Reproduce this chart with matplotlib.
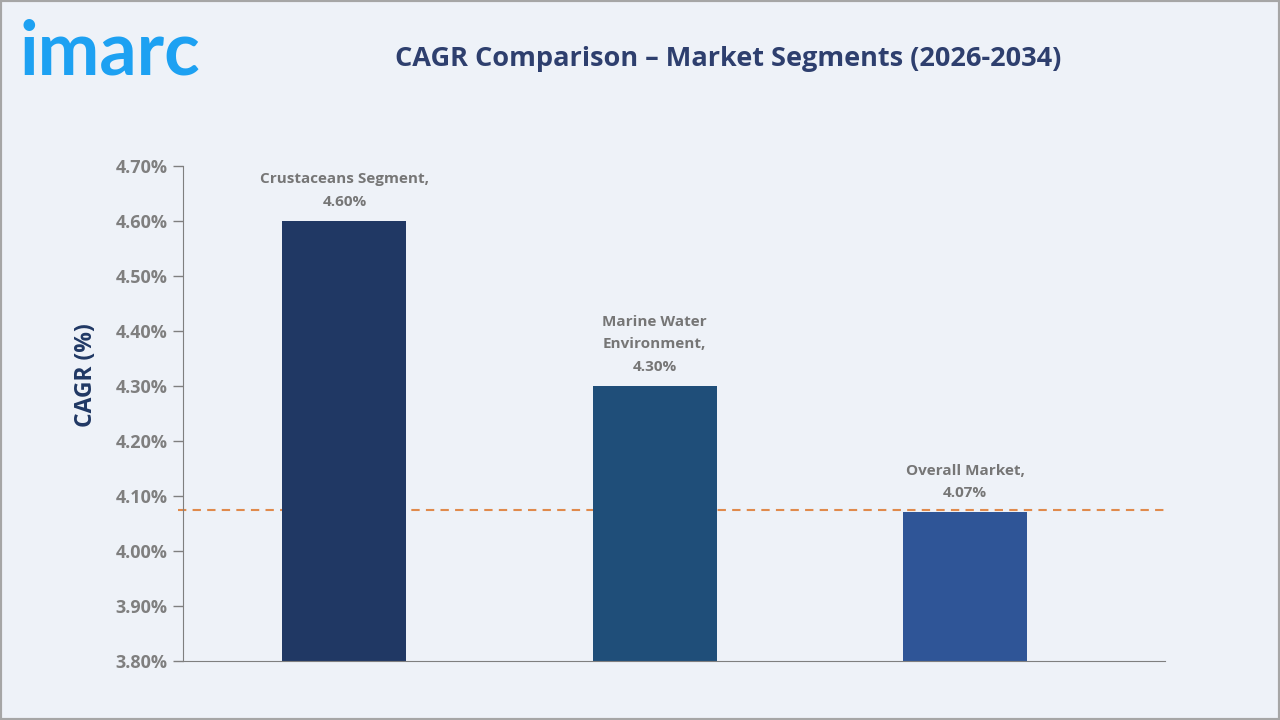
import matplotlib.pyplot as plt
from matplotlib.patches import Rectangle
from matplotlib.ticker import FuncFormatter

categories = ["Crustaceans Segment,\n4.60%", "Marine Water\nEnvironment,\n4.30%", "Overall Market,\n4.07%"]
values = [4.60, 4.30, 4.07]
bar_colors = ["#203864", "#1f4e79", "#2f5597"]
reference_line = 4.075
y_ticks = [3.80, 3.90, 4.00, 4.10, 4.20, 4.30, 4.40, 4.50, 4.60, 4.70]

BG = "#eef2f8"
GREY = "#7f7f7f"
NAVY = "#203864"
FONT = "Open Sans"

fig = plt.figure(figsize=(12.8, 7.2), dpi=100, facecolor=BG)
fig.patches.append(Rectangle((0, 0), 1, 1, transform=fig.transFigure, fill=False,
                             edgecolor="#a6a6a6", linewidth=3, zorder=10))

ax = fig.add_axes([0.143, 0.082, 0.767, 0.6874])
ax.set_facecolor(BG)

x = list(range(len(values)))
ax.axhline(reference_line, xmin=-0.005, color="#e08a4c", linestyle=(0, (4, 3)),
           linewidth=1.5, zorder=1, clip_on=False)
ax.bar(x, values, width=0.40, color=bar_colors, zorder=2)

for xi, v, label in zip(x, values, categories):
    ax.annotate(label, (xi, v), xytext=(0, 9), textcoords="offset points",
                ha="center", va="bottom", fontsize=11, fontweight="bold",
                color="#767676", linespacing=1.75, family=FONT)

ax.set_xlim(-0.52, 2.644)
ax.set_ylim(3.80, 4.70)
ax.set_yticks(y_ticks)
ax.yaxis.set_major_formatter(FuncFormatter(lambda v, _: f"{v:.2f}%"))
ax.set_xticks([])
ax.tick_params(axis="y", colors=GREY, length=7, width=1, labelsize=13, pad=4)
for lbl in ax.get_yticklabels():
    lbl.set_fontweight("bold")
    lbl.set_family(FONT)
ax.spines[["top", "right"]].set_visible(False)
ax.spines["left"].set_color(GREY)
ax.spines["bottom"].set_color(GREY)
ax.set_ylabel("CAGR (%)", fontsize=16.5, fontweight="bold", color=NAVY, family=FONT)
ax.yaxis.set_label_coords(-0.087, 0.577)

fig.text(0.569, 0.918, "CAGR Comparison – Market Segments (2026-2034)", ha="center", va="center",
         fontsize=19.5, fontweight="bold", color="#2e3f6e", family=FONT)
fig.text(0.015, 0.896, "imarc", ha="left", va="baseline", fontsize=53, fontweight="bold",
         color="#1da1f2", family="Lato")

fig.savefig("out.png", dpi=100, facecolor=BG)
